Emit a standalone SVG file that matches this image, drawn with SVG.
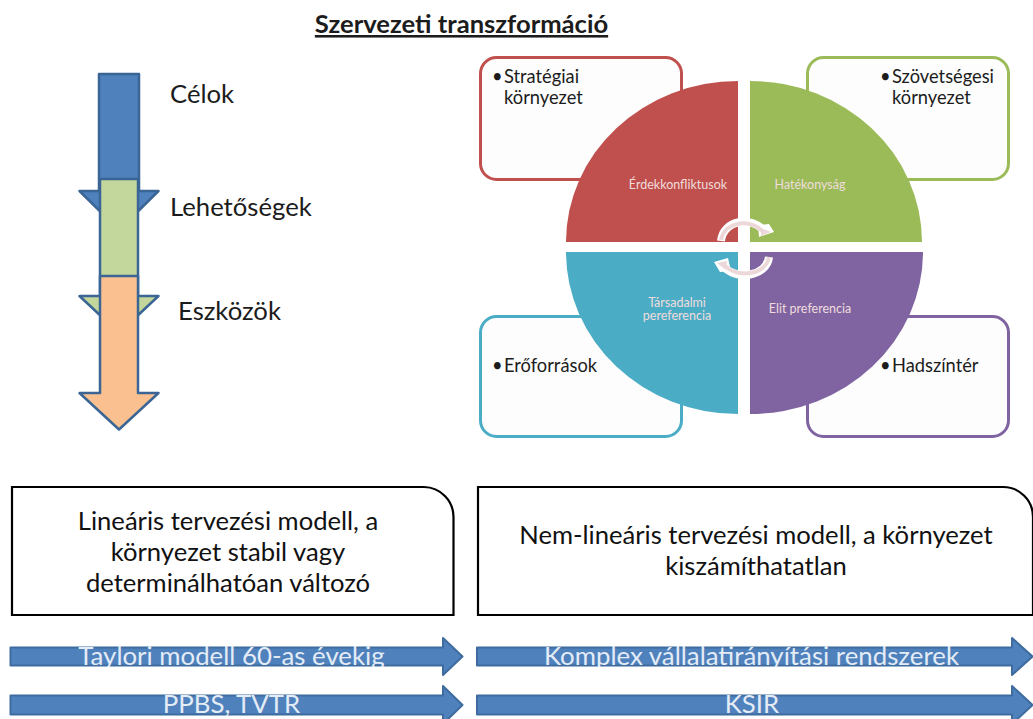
<svg xmlns="http://www.w3.org/2000/svg" width="1033" height="719" viewBox="0 0 1033 719">
<style>
text{font-family:"Lato","Open Sans","Liberation Sans",sans-serif;fill:#1c1c1c}
.bar{fill:#4f81bd;stroke:#3b6595;stroke-width:2.5}
.barw{fill:#4f81bd;stroke:#3f6c9f;stroke-width:2;stroke-linejoin:round}
.box{fill:#fdfdfd;stroke-width:3}
.big{font-size:25.700px}
.t{font-size:18.300px}
.q{font-size:12.500px;fill:#f0dcdc;text-anchor:middle}
.main{font-size:25.600px;text-anchor:middle;fill:#111}
.w{font-size:25.800px;fill:#e4ecf6;text-anchor:middle}
.ar{fill:none;stroke:#fff;stroke-width:8}
.ai{fill:none;stroke:#ecd8d8;stroke-width:4}
</style>
<defs>
<clipPath id="c1"><rect x="0" y="630" width="1033" height="37"/></clipPath>
<clipPath id="c2"><rect x="0" y="680" width="1033" height="36"/></clipPath>
</defs>
<rect width="1033" height="719" fill="#fff"/>
<g id="title"><text x="461.500" y="33" text-anchor="middle" font-size="25.600" font-weight="700" text-decoration="underline" fill="#111">Szervezeti transzformáció</text></g>
<g id="arrow-celok">
<path class="bar" d="M99 74H139V191H158.500L119 230L79.500 191H99Z" stroke-linejoin="round"/>
<text class="big" x="170" y="103">Célok</text>
</g>
<g id="arrow-lehetosegek">
<path d="M100 179H138V296H158.500L119 333L79.500 296H100Z" fill="#c3d69b" stroke="#3b6595" stroke-width="2.500" stroke-linejoin="round"/>
<text class="big" x="170" y="216">Lehetőségek</text>
</g>
<g id="arrow-eszkozok">
<path d="M100 276H138V393H158.500L119 429.500L79.500 393H100Z" fill="#fac090" stroke="#3b6595" stroke-width="2.500" stroke-linejoin="round"/>
<text class="big" x="178" y="320">Eszközök</text>
</g>
<g id="box-strategiai">
<rect class="box" x="480.500" y="57.500" width="201" height="122" rx="16" stroke="#c0504d"/>
<text class="t" x="492" y="83">•</text><text class="t" x="504" y="83">Stratégiai</text><text class="t" x="504" y="104">környezet</text>
</g>
<g id="box-szovetsegesi">
<rect class="box" x="807.500" y="57.500" width="201" height="122" rx="16" stroke="#9bbb59"/>
<text class="t" x="880" y="83">•</text><text class="t" x="892" y="83">Szövetségesi</text><text class="t" x="892" y="104">környezet</text>
</g>
<g id="box-eroforrasok">
<rect class="box" x="480.500" y="316.500" width="201" height="120" rx="16" stroke="#4bacc6"/>
<text class="t" x="492" y="372">•</text><text class="t" x="504" y="372">Erőforrások</text>
</g>
<g id="box-hadszinter">
<rect class="box" x="807.500" y="316.500" width="201" height="120" rx="16" stroke="#8064a2"/>
<text class="t" x="880" y="372">•</text><text class="t" x="892" y="372">Hadszíntér</text>
</g>
<g id="q-erdek">
<path d="M738 81V242H566A172 161 0 0 1 738 81Z" fill="#c0504d"/>
<text class="q" x="678" y="189">Érdekkonfliktusok</text>
</g>
<g id="q-hatekonysag">
<path d="M750 81V242H922A172 161 0 0 0 750 81Z" fill="#9bbb59"/>
<text class="q" x="810" y="189">Hatékonyság</text>
</g>
<g id="q-tarsadalmi">
<path d="M738 414V252H566A172 162 0 0 0 738 414Z" fill="#4bacc6"/>
<text class="q" x="677" y="307">Társadalmi</text><text class="q" x="677" y="320">pereferencia</text>
</g>
<g id="q-elit">
<path d="M750 414V252H923A173 162 0 0 1 750 414Z" fill="#8064a2"/>
<text class="q" x="810" y="313">Elit preferencia</text>
</g>
<g id="connectors">
<path class="ar" d="M721 241C723 220 752 215 765 232"/>
<path d="M759 237L774 232L769 224L758 225Z" fill="#fff"/>
<path d="M761 236L771 232L761 228Z" fill="#ecd8d8"/>
<path class="ai" d="M721 240C724 222 750 218 762 231"/>
<path class="ar" d="M769 257C767 276 736 282 722 265"/>
<path d="M728 258L714 262L720 272L731 271Z" fill="#fff"/>
<path d="M727 261L717 263L726 270Z" fill="#ecd8d8"/>
<path class="ai" d="M769 257C766 274 740 279 725 266"/>
</g>
<g id="box-linearis">
<path d="M12 487H424A30 30 0 0 1 453.500 517V615H12Z" fill="#fff" stroke="#000" stroke-width="2.200"/>
<text class="main" x="228" y="530">Lineáris tervezési modell, a</text>
<text class="main" x="228" y="561">környezet stabil vagy</text>
<text class="main" x="228" y="592">determinálhatóan változó</text>
</g>
<g id="box-nemlinearis">
<path d="M478 487H1003A30 30 0 0 1 1033 517V615H478Z" fill="#fff" stroke="#000" stroke-width="2.200"/>
<text class="main" x="756" y="544">Nem-lineáris tervezési modell, a környezet</text>
<text class="main" x="756" y="575">kiszámíthatatlan</text>
</g>
<g id="arrow-taylori">
<path class="barw" d="M10.500 647.500H443V638L462.500 656.500L443 675V665.500H10.500Z"/>
<text class="w" clip-path="url(#c1)" x="231.500" y="665">Taylori modell 60-as évekig</text>
</g>
<g id="arrow-komplex">
<path class="barw" d="M477 647.500H1012V638L1032.500 656.500L1012 675V665.500H477Z"/>
<text class="w" clip-path="url(#c1)" x="751.500" y="665">Komplex vállalatirányítási rendszerek</text>
</g>
<g id="arrow-ppbs">
<path class="barw" d="M10.500 695.500H443V686L462.500 705L443 724V714.500H10.500Z"/>
<text class="w" clip-path="url(#c2)" x="231.500" y="713">PPBS, TVTR</text>
</g>
<g id="arrow-ksir">
<path class="barw" d="M477 695.500H1012V686L1032.500 705L1012 724V714.500H477Z"/>
<text class="w" clip-path="url(#c2)" x="752" y="713">KSIR</text>
</g>
</svg>
